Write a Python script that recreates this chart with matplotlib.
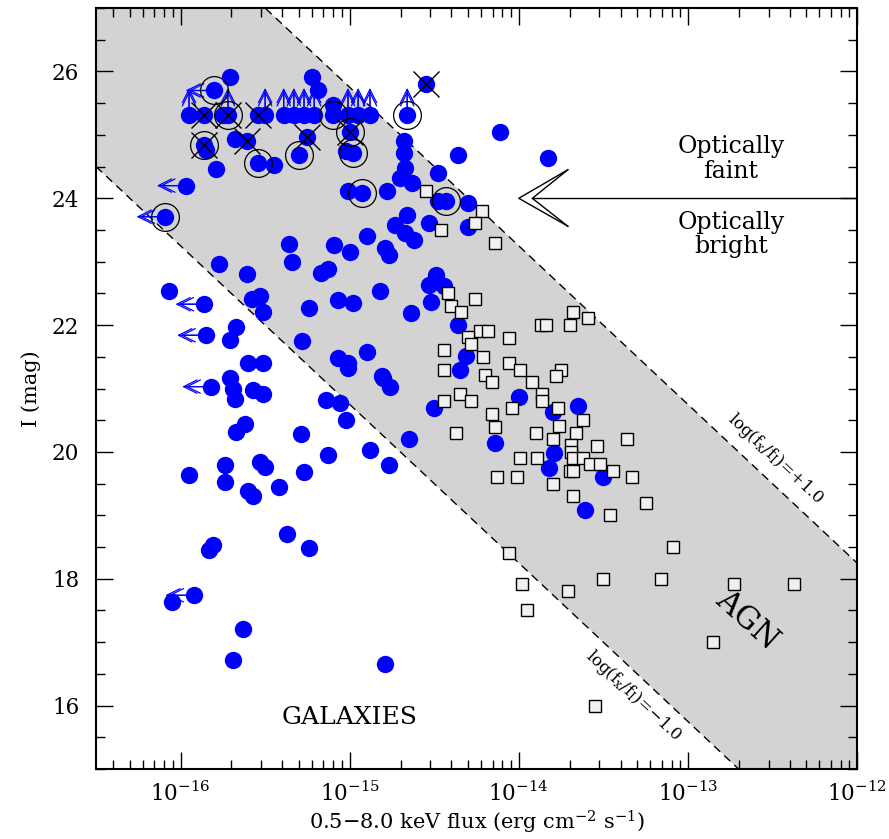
import numpy as np
import matplotlib
matplotlib.use("Agg")
import matplotlib.pyplot as plt
from matplotlib.ticker import MultipleLocator, LogLocator, NullFormatter, FixedLocator

plt.rcParams['font.family'] = ['DejaVu Serif']
plt.rcParams['mathtext.fontset'] = 'dejavuserif'

# galaxies (blue filled circles): log10 flux, I mag
gal_logf = [-15.71, -15.80, -15.22, -15.19, -15.95, -15.86, -15.75, -15.72, -15.54, -15.50,
            -15.39, -15.33, -15.27, -15.21, -15.10, -15.01, -14.95, -14.88, -14.66, -15.10,
            -15.86, -15.85, -15.68, -15.61, -15.54, -15.45, -15.79, -15.30, -15.25, -15.00,
            -15.02, -14.98, -14.55, -15.97, -16.09, -14.68, -14.68, -14.67, -14.70, -14.63,
            -14.48, -14.36, -14.11, -13.83, -14.78, -15.01, -14.93, -14.48, -14.43, -14.30,
            -14.66, -14.73, -14.53, -14.30, -14.67, -14.62, -14.79, -14.77, -14.49, -14.53,
            -14.44, -14.82, -14.52, -14.64, -14.36, -14.31, -14.35, -14.80, -14.76, -14.50,
            -14.00, -13.80, -13.65, -14.65, -14.14, -14.77, -13.79, -13.82, -13.50, -13.61,
            -15.36, -15.34, -15.09, -15.00, -14.90, -15.77, -15.61, -16.07, -15.86, -15.58,
            -15.53, -15.51, -15.24, -15.17, -15.13, -15.07, -14.98, -15.85, -15.71, -15.67,
            -15.28, -15.60, -15.51, -15.07, -15.01, -15.01, -14.90, -15.82, -15.71, -15.69,
            -15.68, -15.57, -15.51, -14.81, -15.14, -15.06, -15.02, -15.67, -15.62, -15.29,
            -15.74, -15.95, -15.53, -15.50, -15.27, -15.13, -14.88, -15.74, -15.60, -15.57,
            -15.42, -15.83, -15.81, -15.37, -15.24, -15.92, -16.05, -15.63, -15.69, -14.79]
gal_imag = [25.92, 25.70, 25.92, 25.70, 25.32, 25.32, 25.32, 25.32, 25.32, 25.32,
            25.32, 25.32, 25.32, 25.32, 25.32, 25.32, 25.32, 25.32, 25.32, 25.47,
            24.84, 24.76, 24.93, 24.90, 24.55, 24.53, 24.46, 24.69, 24.97, 25.05,
            24.74, 24.71, 25.81, 24.20, 23.71, 24.90, 24.71, 24.47, 24.32, 24.24,
            24.40, 24.69, 25.04, 24.64, 24.11, 24.11, 24.08, 23.95, 23.95, 23.92,
            23.74, 23.58, 23.61, 23.55, 23.45, 23.34, 23.21, 23.11, 22.79, 22.63,
            22.61, 22.54, 22.37, 22.19, 22.00, 21.51, 21.30, 21.16, 21.03, 20.70,
            20.87, 20.63, 20.73, 20.21, 20.14, 19.79, 19.99, 19.75, 19.61, 19.08,
            23.28, 23.00, 23.26, 23.16, 23.41, 22.96, 22.81, 22.54, 22.33, 22.41,
            22.46, 22.21, 22.27, 22.82, 22.88, 22.40, 22.35, 21.84, 21.76, 21.97,
            21.75, 21.41, 21.40, 21.48, 21.40, 21.32, 21.58, 21.03, 21.16, 21.00,
            20.84, 20.98, 20.92, 21.19, 20.82, 20.77, 20.51, 20.32, 20.44, 20.29,
            19.79, 19.64, 19.84, 19.76, 19.69, 19.95, 20.03, 19.53, 19.39, 19.30,
            19.45, 18.45, 18.53, 18.70, 18.48, 17.74, 17.63, 17.21, 16.72, 16.65]

# flags on the galaxy points (indices into the lists above)
up_idx = [4, 7, 9, 10, 11, 12, 13, 15, 16, 17, 18]
left_idx = [1, 33, 34, 88, 97, 107, 135]
ring_idx = [1, 7, 14, 18, 20, 24, 27, 29, 31, 34, 46, 48]
cross_idx = [5, 7, 8, 20, 23, 28, 29, 32]

# AGN (open squares)
agn_logf = [-14.55, -14.22, -14.26, -14.46, -14.14, -14.42, -14.26, -14.40, -14.34, -13.68,
            -13.59, -13.87, -13.84, -13.70, -14.23, -14.18, -14.30, -14.06, -14.28, -14.44,
            -14.21, -14.44, -14.06, -13.99, -13.75, -14.20, -14.16, -13.92, -13.78, -14.35,
            -14.28, -14.44, -13.86, -13.86, -14.04, -13.77, -14.16, -14.14, -13.62, -13.76,
            -13.66, -14.37, -13.90, -13.80, -13.54, -13.36, -13.69, -13.69, -13.68, -13.62,
            -13.58, -13.52, -13.99, -13.89, -14.13, -14.01, -13.70, -13.68, -13.44, -13.33,
            -13.80, -13.68, -13.25, -13.46, -13.09, -14.06, -13.98, -13.50, -13.16, -12.73,
            -12.37, -13.71, -13.95, -12.85, -13.55]
agn_imag = [24.11, 23.80, 23.61, 23.50, 23.30, 22.50, 22.41, 22.30, 22.20, 22.20,
            22.11, 22.00, 22.00, 22.00, 21.90, 21.90, 21.81, 21.80, 21.71, 21.60,
            21.50, 21.30, 21.41, 21.30, 21.30, 21.21, 21.10, 21.10, 21.20, 20.91,
            20.81, 20.81, 20.91, 20.81, 20.70, 20.70, 20.60, 20.40, 20.50, 20.41,
            20.30, 20.30, 20.30, 20.20, 20.10, 20.20, 20.11, 20.00, 19.90, 19.90,
            19.81, 19.81, 19.90, 19.90, 19.61, 19.61, 19.70, 19.70, 19.70, 19.61,
            19.50, 19.30, 19.20, 19.00, 18.50, 18.41, 17.91, 18.00, 18.00, 17.91,
            17.91, 17.80, 17.50, 17.00, 16.00]

ratio_lines = [1.0, -1.0]   # log(fx/fI)
zp = 5.7

gf = 10.0 ** np.array(gal_logf)
gi = np.array(gal_imag)
af = 10.0 ** np.array(agn_logf)
ai = np.array(agn_imag)

fig = plt.figure(figsize=(8.89, 8.39), dpi=100)
ax = fig.add_axes([0.108, 0.0834, 0.856, 0.907])

lf = np.linspace(-16.5, -12, 50)
up_line = 2.5 * (ratio_lines[0] - lf - zp)
lo_line = 2.5 * (ratio_lines[1] - lf - zp)
ax.fill_between(10 ** lf, lo_line, up_line, color='#d3d3d3', lw=0, zorder=0)
ax.plot(10 ** lf, up_line, color='k', ls=(0, (6, 4)), lw=1, zorder=1)
ax.plot(10 ** lf, lo_line, color='k', ls=(0, (6, 4)), lw=1, zorder=1)

ax.plot(gf, gi, 'o', color='#0000ff', ms=12.5, mec='none', zorder=3)
ax.plot(af, ai, 's', mfc='#f0f0f0', mec='k', ms=9, mew=1, zorder=4)

# limit arrows, head drawn twice to get the doubled look
aprops = dict(arrowstyle='->', color='#0000ff', lw=0.9, mutation_scale=24,
              shrinkA=0, shrinkB=0)
for i in up_idx:
    for d in (0.42, 0.37):
        ax.annotate('', xy=(gf[i], gi[i] + d), xytext=(gf[i], gi[i]),
                    arrowprops=aprops, zorder=5)
for i in left_idx:
    for d in (0.17, 0.15):
        ax.annotate('', xy=(gf[i] * 10 ** -d, gi[i]), xytext=(gf[i], gi[i]),
                    arrowprops=aprops, zorder=5)

ax.plot(gf[ring_idx], gi[ring_idx], 'o', mfc='none', mec='k', ms=20, mew=0.9, zorder=6)
ax.plot(gf[cross_idx], gi[cross_idx], 'x', color='k', ms=19, mew=1.0, zorder=6)

# optically faint / bright arrow
ax.plot([10 ** -13.92, 1e-12], [24, 24], color='k', lw=1, zorder=2)
ax.plot([10 ** -13.71, 10 ** -14.0, 10 ** -13.71], [24.45, 24.0, 23.56], color='k', lw=1)
ax.plot([10 ** -13.71, 10 ** -13.92, 10 ** -13.71], [24.45, 24.0, 23.56], color='k', lw=1)
ax.text(10 ** -12.745, 24.62, 'Optically\nfaint', ha='center', va='center',
        fontsize=17, linespacing=1.1)
ax.text(10 ** -12.745, 23.43, 'Optically\nbright', ha='center', va='center',
        fontsize=17, linespacing=1.1)

ax.text(10 ** -12.48, 19.89, r'log(f$_{\rm x}$/f$_{\rm I}$)=+1.0', rotation=-43,
        ha='center', va='center', fontsize=12, rotation_mode='anchor')
ax.text(10 ** -13.32, 16.15, r'log(f$_{\rm x}$/f$_{\rm I}$)=$-$1.0', rotation=-43,
        ha='center', va='center', fontsize=12, rotation_mode='anchor')
ax.text(10 ** -12.65, 17.34, 'AGN', rotation=-42, ha='center', va='center', fontsize=22)
ax.text(1e-15, 15.81, 'GALAXIES', ha='center', va='center', fontsize=18)

ax.set_xscale('log')
ax.set_xlim(10 ** -16.5, 1e-12)
ax.set_ylim(15, 27)
ax.xaxis.set_major_locator(FixedLocator([1e-16, 1e-15, 1e-14, 1e-13, 1e-12]))
ax.xaxis.set_minor_locator(LogLocator(base=10, subs=np.arange(2, 10), numticks=12))
ax.xaxis.set_minor_formatter(NullFormatter())
ax.yaxis.set_major_locator(MultipleLocator(2))
ax.yaxis.set_minor_locator(MultipleLocator(0.5))
ax.tick_params(which='both', direction='in', top=True, right=True, width=1, labelsize=15.5)
ax.tick_params(which='major', length=12)
ax.tick_params(which='minor', length=6.5)
ax.tick_params(axis='x', which='major', pad=9)
ax.tick_params(axis='y', which='major', pad=12)
for s in ax.spines.values():
    s.set_linewidth(1.5)

ax.set_xlabel(r'0.5$-$8.0 keV flux (erg cm$^{-2}$ s$^{-1}$)', fontsize=15, labelpad=2)
ax.set_ylabel('I (mag)', fontsize=15, labelpad=8)

fig.savefig('out.png', dpi=100)
